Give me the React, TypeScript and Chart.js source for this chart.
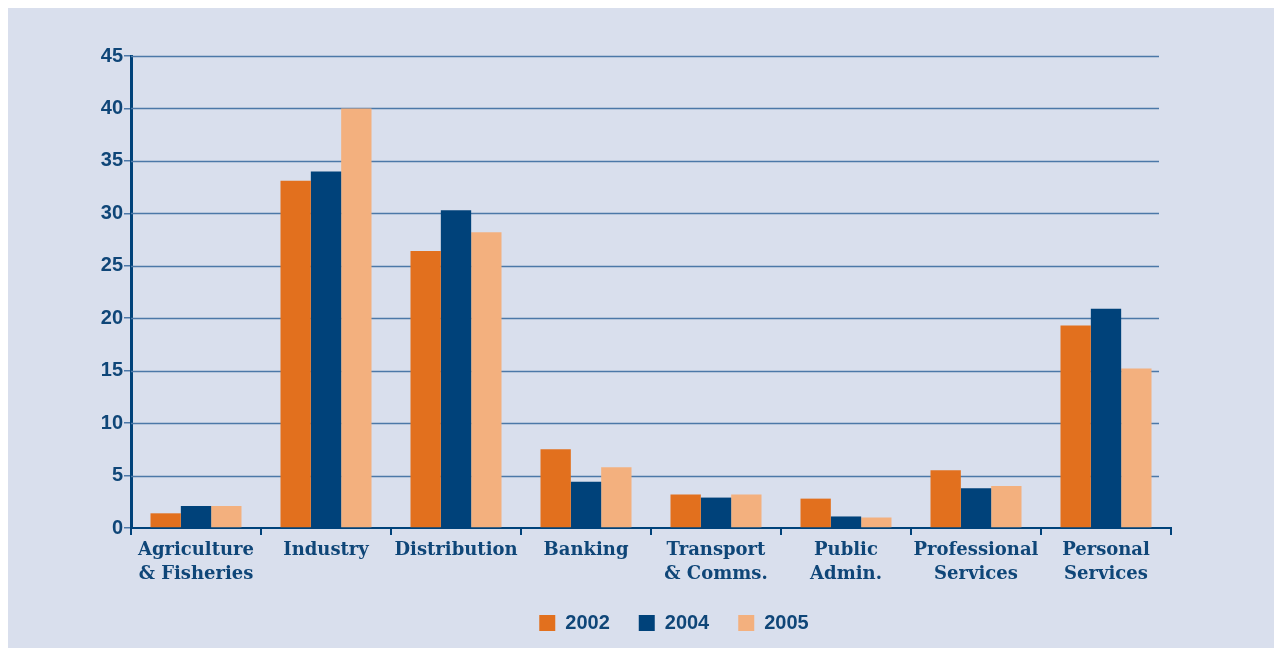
import React, { useEffect, useRef } from "react";
import { Chart, registerables } from "chart.js";

Chart.register(...registerables);

const categories: string[][] = [
  ["Agriculture", "& Fisheries"],
  ["Industry"],
  ["Distribution"],
  ["Banking"],
  ["Transport", "& Comms."],
  ["Public", "Admin."],
  ["Professional", "Services"],
  ["Personal", "Services"],
];
const values2002 = [1.4, 33.1, 26.4, 7.5, 3.2, 2.8, 5.5, 19.3];
const values2004 = [2.1, 34.0, 30.3, 4.4, 2.9, 1.1, 3.8, 20.9];
const values2005 = [2.1, 40.0, 28.2, 5.8, 3.2, 1.0, 4.0, 15.2];
const yTicks = [0, 5, 10, 15, 20, 25, 30, 35, 40, 45];

const NAVY = "#00427A";
const TEXT = "#0F4678";
const GRID = "#4C78A8";

const gridPlugin = {
  id: "shortGrid",
  beforeDatasetsDraw(chart: any) {
    const { ctx, chartArea, scales } = chart;
    const y = scales.y;
    ctx.save();
    ctx.strokeStyle = GRID;
    ctx.lineWidth = 1.5;
    yTicks.forEach((t) => {
      if (t === 0) return;
      const py = Math.round(y.getPixelForValue(t)) + 0.5;
      ctx.beginPath();
      ctx.moveTo(chartArea.left, py);
      ctx.lineTo(chartArea.right - 12, py);
      ctx.stroke();
    });
    ctx.restore();
  },
};

export default function App() {
  const ref = useRef<HTMLCanvasElement>(null);
  useEffect(() => {
    if (!ref.current) return;
    const chart = new Chart(ref.current, {
      type: "bar",
      data: {
        labels: categories,
        datasets: [
          { label: "2002", data: values2002, backgroundColor: "#E2701E" },
          { label: "2004", data: values2004, backgroundColor: NAVY },
          { label: "2005", data: values2005, backgroundColor: "#F3B07E" },
        ],
      },
      plugins: [gridPlugin],
      options: {
        animation: false,
        responsive: false,
        maintainAspectRatio: false,
        layout: { padding: { top: 48, right: 8, left: 0, bottom: 5 } },
        datasets: {
          bar: { barPercentage: 1.0, categoryPercentage: 0.7 },
        },
        plugins: {
          tooltip: { enabled: false },
          legend: {
            position: "bottom",
            labels: {
              color: TEXT,
              font: { family: "'Liberation Sans', Arial, sans-serif", size: 20, weight: "bold" },
              boxWidth: 16,
              boxHeight: 16,
              padding: 29,
              useBorderRadius: false,
            },
          },
        },
        scales: {
          x: {
            afterFit: (s: any) => {
              s.height = 56;
            },
            grid: {
              display: true,
              drawOnChartArea: false,
              drawTicks: true,
              tickLength: 7,
              color: NAVY,
              lineWidth: 2,
              offset: true,
            },
            border: { display: true, color: NAVY, width: 2 },
            ticks: {
              color: TEXT,
              font: { family: "'DejaVu Serif', serif", size: 18, weight: "bold", lineHeight: 1.36 },
              padding: 3,
              maxRotation: 0,
              autoSkip: false,
            },
          },
          y: {
            min: 0,
            max: 45,
            afterFit: (s: any) => {
              s.width = 123;
            },
            afterBuildTicks: (s: any) => {
              s.ticks = yTicks.map((v) => ({ value: v }));
            },
            grid: {
              display: true,
              drawOnChartArea: false,
              drawTicks: true,
              tickLength: 7,
              color: GRID,
              lineWidth: 1.5,
            },
            border: { display: true, color: NAVY, width: 3 },
            ticks: {
              color: TEXT,
              font: { family: "'Liberation Sans', Arial, sans-serif", size: 20, weight: "bold" },
              padding: 1,
            },
          },
          yPad: {
            type: "linear",
            position: "right",
            min: 0,
            max: 45,
            afterFit: (s: any) => {
              s.width = 169;
            },
            grid: { display: false, drawTicks: false },
            border: { display: false },
            ticks: { display: false },
          },
        },
      },
    });
    return () => chart.destroy();
  }, []);
  return (
    <div style={{ width: 1266, height: 640, background: "#D9DFED", overflow: "hidden" }}>
      <canvas ref={ref} width={1340} height={640} style={{ display: "block" }} />
    </div>
  );
}
